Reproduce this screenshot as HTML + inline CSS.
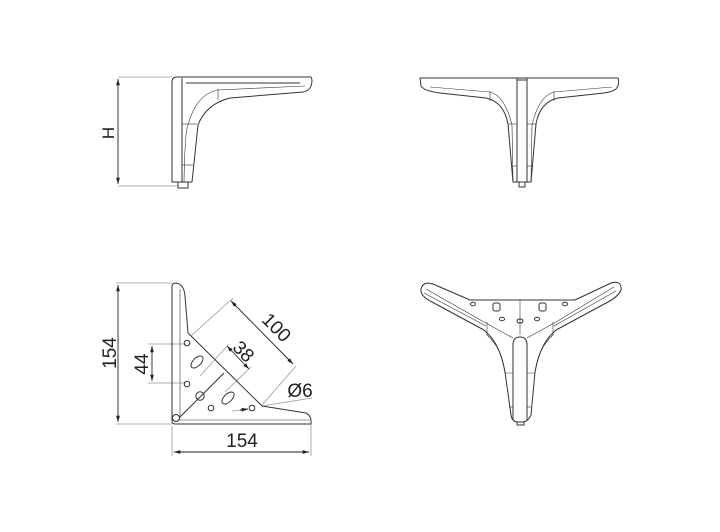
<!DOCTYPE html>
<html><head><meta charset="utf-8"><style>
html,body{margin:0;padding:0;background:#fff}
svg{display:block}
text{font-family:"Liberation Sans",sans-serif;fill:#222}
</style></head><body>
<svg width="720" height="532" viewBox="0 0 720 532" xmlns="http://www.w3.org/2000/svg">
<defs>
<marker id="a" viewBox="0 0 10 10" refX="10" refY="5" markerWidth="7" markerHeight="7" orient="auto-start-reverse"><path d="M0,2 L10,5 L0,8 z" fill="#222"/></marker>
</defs>
<g fill="none" stroke="#999" stroke-width="0.8">
<!-- Q1 dims -->
<line x1="118" y1="77" x2="172" y2="77"/><line x1="118" y1="186" x2="178" y2="186"/>
<!-- Q3 dims -->
<line x1="116" y1="283" x2="172" y2="283"/><line x1="116" y1="424" x2="172" y2="424"/>
<line x1="172" y1="426" x2="172" y2="456"/><line x1="311" y1="424" x2="311" y2="456"/>
<line x1="148" y1="344" x2="186" y2="344"/><line x1="148" y1="383" x2="186" y2="383"/>
<line x1="191" y1="336" x2="233" y2="298"/><line x1="262" y1="405" x2="296" y2="366"/>
<line x1="200" y1="376" x2="229" y2="344"/><line x1="225" y1="392" x2="251" y2="367"/>
<line x1="262" y1="406" x2="312" y2="398"/>
<line x1="232" y1="411" x2="246" y2="410"/>
</g>
<g fill="none" stroke="#222" stroke-width="0.9">
<line x1="118" y1="79" x2="118" y2="184" marker-start="url(#a)" marker-end="url(#a)"/>
<line x1="118" y1="285" x2="118" y2="422" marker-start="url(#a)" marker-end="url(#a)"/>
<line x1="174" y1="452" x2="309" y2="452" marker-start="url(#a)" marker-end="url(#a)"/>
<line x1="152" y1="346" x2="152" y2="381" marker-start="url(#a)" marker-end="url(#a)"/>
<line x1="231" y1="301" x2="293" y2="364" marker-start="url(#a)" marker-end="url(#a)"/>
<line x1="227" y1="346" x2="249" y2="369" marker-start="url(#a)" marker-end="url(#a)"/>
<line x1="240" y1="410" x2="248" y2="409" marker-end="url(#a)"/>
</g>
<text x="114" y="133" font-size="17" transform="rotate(-90 114 133)" text-anchor="middle">H</text>
<text x="116" y="353" font-size="19" transform="rotate(-90 116 353)" text-anchor="middle">154</text>
<text x="148" y="364" font-size="19" transform="rotate(-90 148 364)" text-anchor="middle">44</text>
<text x="242" y="447" font-size="19" text-anchor="middle">154</text>
<text x="272" y="332" font-size="19" transform="rotate(45 272 332)" text-anchor="middle">100</text>
<text x="239" y="356" font-size="19" transform="rotate(45 239 356)" text-anchor="middle">38</text>
<text x="300" y="397" font-size="19" text-anchor="middle">Ø6</text>

<g fill="none" stroke="#333" stroke-width="1" stroke-linejoin="round">
<!-- Q1 side view -->
<path d="M172,182 L172,82 Q172,77 177,77 L311,77 Q313,80 311,86 Q309,91 303,92 L230,98 Q206,104 198,125 L192,182 Z"/>
<path d="M182,78 L182,182"/>
<path d="M186,83 L300,83"/>
<path d="M184,182 Q185,130 188,125 Q196,95 217,90 L305,86" stroke-width="0.6"/>
<line x1="218" y1="89" x2="218" y2="100" stroke-width="0.6"/>
<line x1="182" y1="124" x2="197" y2="124" stroke-width="0.6"/>
<line x1="182" y1="165" x2="193" y2="165" stroke-width="0.6"/>
<rect x="178" y="182" width="10" height="6"/>
<!-- Q2 front view -->
<path d="M420,78 L618,78 Q620,84 616,89 Q612,92 604,93 L558,98 Q540,102 536,124 L531,182 L513,182 L508,124 Q504,102 486,98 L440,93 Q424,91 421,86 Z"/>
<line x1="517" y1="78" x2="517" y2="182"/><line x1="527" y1="78" x2="527" y2="182"/>
<line x1="517" y1="80" x2="527" y2="80"/>
<path d="M513,182 L512,125 Q505,96 490,92 L430,87" stroke-width="0.6"/>
<path d="M531,182 L532,125 Q539,96 554,92 L612,87" stroke-width="0.6"/>
<line x1="490" y1="91" x2="490" y2="101" stroke-width="0.6"/><line x1="554" y1="91" x2="554" y2="101" stroke-width="0.6"/>
<line x1="508" y1="124" x2="517" y2="124" stroke-width="0.6"/><line x1="527" y1="124" x2="536" y2="124" stroke-width="0.6"/>
<line x1="512" y1="166" x2="517" y2="166" stroke-width="0.6"/><line x1="527" y1="166" x2="532" y2="166" stroke-width="0.6"/>
<rect x="519" y="182" width="6" height="5"/>
<!-- Q3 top view -->
<path d="M172,422 L172,287 Q172,283 176,283 Q184,284 185,296 L188,333 L262,406 L306,413 Q312,416 311,424 L176,424 Q172,424 172,422 Z"/>
<line x1="180" y1="289" x2="180" y2="418" stroke-width="0.6"/>
<line x1="178" y1="420" x2="310" y2="420" stroke-width="0.6"/>
<line x1="180" y1="417" x2="224" y2="373"/>
<circle cx="176" cy="418" r="3.5"/>
<circle cx="187" cy="343" r="2.8"/>
<ellipse cx="197" cy="362" rx="4" ry="7.5" transform="rotate(45 197 362)"/>
<circle cx="187" cy="384" r="2.8"/>
<circle cx="200" cy="396" r="4.2"/>
<ellipse cx="228" cy="398" rx="4" ry="7.5" transform="rotate(45 228 398)"/>
<circle cx="211" cy="408" r="2.8"/>
<circle cx="252" cy="408" r="2.8"/>
<!-- Q4 perspective -->
<path d="M470,300 L575,300 L611,283 Q622,280 621,290 Q618,297 608,302 L556,330 L552,334 Q540,345 535,372 L531,415 Q528,422 522,422 L518,422 Q512,422 511,415 L505,372 Q500,345 488,334 L484,330 L432,302 Q420,296 421,289 Q423,281 433,284 Z"/>
<line x1="520" y1="300" x2="520" y2="335" stroke-width="0.6"/>
<path d="M513,345 Q513,337 520,337 Q527,337 527,345 L527,420 M513,345 L513,420" />
<path d="M426,289 L484,322 L513,338" stroke-width="0.6"/>
<path d="M614,287 L556,322 L527,338" stroke-width="0.6"/>
<path d="M424,293 L486,326" stroke-width="0.6"/><path d="M616,291 L554,326" stroke-width="0.6"/>
<path d="M487,335 Q502,348 505,373 L513,373" stroke-width="0.6"/>
<path d="M553,335 Q538,348 535,373 L527,373" stroke-width="0.6"/>
<line x1="487" y1="335" x2="487" y2="322" stroke-width="0.6"/><line x1="553" y1="335" x2="553" y2="322" stroke-width="0.6"/>
<line x1="509" y1="407" x2="513" y2="407" stroke-width="0.6"/><line x1="527" y1="407" x2="531" y2="407" stroke-width="0.6"/>
<rect x="517" y="422" width="7" height="3"/>
<rect x="493" y="303" width="7" height="8" rx="2"/>
<rect x="539" y="303" width="7" height="8" rx="2"/>
<ellipse cx="473" cy="304" rx="2.5" ry="1.8"/><ellipse cx="565" cy="304" rx="2.5" ry="1.8"/>
<ellipse cx="502" cy="319" rx="2.5" ry="1.8"/><ellipse cx="537" cy="319" rx="2.5" ry="1.8"/>
<ellipse cx="520" cy="321" rx="3" ry="2"/>
</g>
</svg>
</body></html>
